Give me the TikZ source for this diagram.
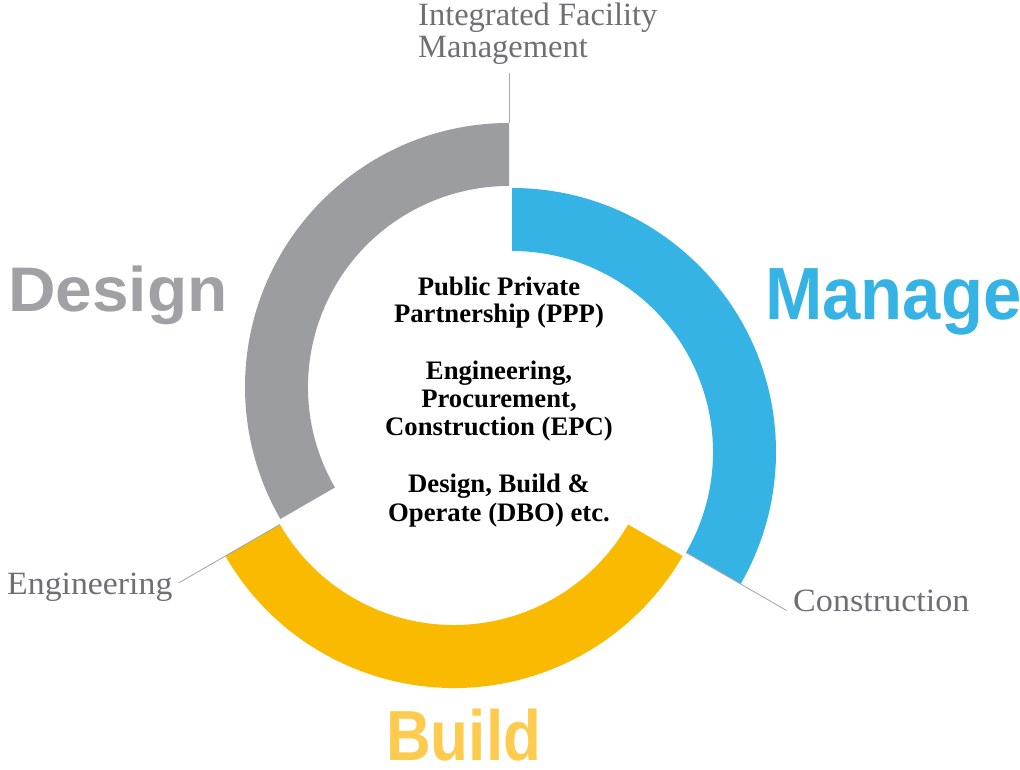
\documentclass[tikz,border=0pt]{standalone}
\usepackage{fontspec}
\setmainfont{Liberation Serif}
\newfontfamily\headfont{Liberation Sans}
\usetikzlibrary{calc}

\definecolor{ringgray}{HTML}{9C9DA0}
\definecolor{ringblue}{HTML}{36B3E5}
\definecolor{ringyellow}{HTML}{F9BA00}
\definecolor{buildyellow}{HTML}{FDCB4E}
\definecolor{designgray}{HTML}{A0A1A4}
\definecolor{labelgray}{HTML}{6E6F72}
\definecolor{leadergray}{HTML}{A7A9AC}

% one thick ring piece: centre, start angle, end angle, colour
\newcommand\ringsegment[4]{%
  \fill[#4] ([shift={(#2:264pt)}]#1) arc[start angle=#2, end angle=#3, radius=264pt]
    -- ([shift={(#3:201pt)}]#1) arc[start angle=#3, end angle=#2, radius=201pt] -- cycle;}

\tikzset{
  leader/.style={draw=leadergray, line width=0.9pt},
  phase/.style={inner sep=0pt, anchor=base west},
  sidelabel/.style={font=\fontsize{32.5}{32.5}\selectfont, text=labelgray, inner sep=0pt, anchor=base west},
  core/.style={font=\bfseries\fontsize{26.7}{28}\selectfont, inner sep=0pt, anchor=base},
}

\begin{document}
\begin{tikzpicture}[x=1pt, y=1pt]
\useasboundingbox (0,0) rectangle (1020,770);

% centres of the three ring pieces
\coordinate (gc) at (509,383);
\coordinate (bc) at (512,318);
\coordinate (yc) at (454,346);

\ringsegment{gc}{90}{210}{ringgray}
\ringsegment{bc}{90}{-30}{ringblue}
\ringsegment{yc}{210}{330}{ringyellow}

% phase headings
\node[phase, text=designgray] (design) at (8,458)
  {\headfont\bfseries\fontsize{63}{63}\selectfont\scalebox{1.045}[1]{Design}};
\node[phase, text=ringblue] (manage) at (765,450)
  {\headfont\bfseries\fontsize{74}{74}\selectfont\scalebox{0.93}[1]{Manage}};
\node[phase, text=buildyellow, text depth=0pt] (build) at (386,9)
  {\headfont\bfseries\fontsize{71}{71}\selectfont\scalebox{0.873}[1]{Build}};

% service labels
\node[sidelabel] (ifm1) at (418,744) {Integrated Facility};
\node[sidelabel] (ifm2) at (418,712) {Management};
\node[sidelabel] (eng) at (7,175) {\scalebox{1.04}[1]{Engineering}};
\node[sidelabel] (cons) at (793,158) {\scalebox{1.05}[1]{Construction}};

% contract models in the middle
\node[core] (c1) at (499,474) {Public Private};
\node[core] (c2) at (499,447) {Partnership (PPP)};
\node[core] (c3) at (499,390) {Engineering,};
\node[core] (c4) at (499,362) {Procurement,};
\node[core] (c5) at (499,334) {Construction (EPC)};
\node[core] (c6) at (499,277) {Design, Build \&};
\node[core] (c7) at (499,248) {Operate (DBO) etc.};

% leader lines along the piece edges
\coordinate (ifmend) at ([shift={(90:314pt)}]gc);
\coordinate (engend) at ([shift={(210:318pt)}]yc);
\coordinate (consend) at ([shift={(-30:317pt)}]bc);
\draw[leader] ([shift={(90:264pt)}]gc) -- (ifmend);
\draw[leader] ([shift={(210:201pt)}]yc) -- (engend);
\draw[leader] ([shift={(-30:201pt)}]bc) -- (consend);
\end{tikzpicture}
\end{document}
